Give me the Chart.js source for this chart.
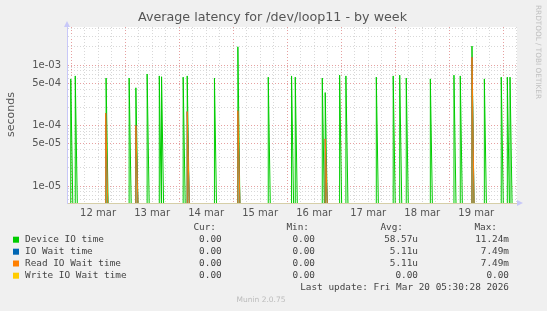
<!DOCTYPE html>
<html>
<head>
<meta charset="utf-8">
<script src="https://cdn.jsdelivr.net/npm/chart.js@4.4.1/dist/chart.umd.min.js"></script>
<style>
  html, body { margin: 0; padding: 0; background: #f0f0f0; }
  canvas { display: block; }
</style>
</head>
<body>
<canvas id="latency" width="547" height="311"></canvas>
<script>
// --- 1. Data (x = hours since 12 mar 00:00, 30 min samples) ---
const deviceHours  = [-0.13, 1.87, 15.56, 25.8, 28.8, 33.8, 39.2, 40.2, 49.8, 51.6, 63.7, 74.1, 87.6, 97.95, 99.6,
                      111.6, 112.9, 119.3, 122.1, 135.6, 143.1, 146.0, 148.9, 159.6, 170.1, 172.9, 178.1, 183.6,
                      191.1, 193.8, 195.0];
const deviceValues = [5.9e-4, 6.6e-4, 6.1e-4, 6.1e-4, 4.2e-4, 7.1e-4, 6.6e-4, 6.4e-4, 6.3e-4, 6.6e-4, 6.1e-4, 2.0e-3, 6.3e-4, 6.6e-4, 6.3e-4,
                      6.1e-4, 3.5e-4, 6.8e-4, 6.6e-4, 6.3e-4, 6.6e-4, 6.8e-4, 6.1e-4, 5.9e-4, 6.8e-4, 6.6e-4, 2.06e-3, 5.9e-4,
                      6.3e-4, 6.3e-4, 6.3e-4];
const readHours    = [15.4, 28.8, 51.6, 74.1, 112.9, 178.1];
const readValues   = [1.6e-4, 1.0e-4, 1.7e-4, 1.76e-4, 6.0e-5, 1.34e-3];
const ioWaitHours  = readHours;     // IO wait == read IO wait here
const ioWaitValues = readValues;
const writeHours   = [-1.8, 198.1];
const writeValues  = [0, 0];        // zero everywhere: nothing to show on a log axis

const dayLabels   = ['12 mar', '13 mar', '14 mar', '15 mar', '16 mar', '17 mar', '18 mar', '19 mar'];
const yTickValues = [1e-3, 5e-4, 1e-4, 5e-5, 1e-5];
const yTickLabels = ['1e-03', '5e-04', '1e-04', '5e-05', '1e-05'];

const legendNames  = ['Device IO time', 'IO Wait time', 'Read IO Wait time', 'Write IO Wait time'];
const legendColors = ['#00cc00', '#0066b3', '#ff8000', '#ffcc00'];
const curText = ['0.00', '0.00', '0.00', '0.00'];
const minText = ['0.00', '0.00', '0.00', '0.00'];
const avgText = ['58.57u', '5.11u', '5.11u', '0.00'];
const maxText = ['11.24m', '7.49m', '7.49m', '0.00'];

const xMin = -1.8, xMax = 198.1;
const yMin = 5.24e-6, yMax = 4.25e-3;

// --- 2. Helpers ---
// each sample: vertical rise from the bottom edge, short fall back, then a gap
function spikes(hours, values) {
    let pts = [];
    hours.forEach((h, i) => {
        pts.push({ x: h, y: yMin }, { x: h, y: values[i] }, { x: h + 0.9, y: yMin }, { x: h + 0.95, y: null });
    });
    return pts;
}

// later series are painted over earlier ones (like rrdtool), so order counts down
function lineSet(label, color, pts, order) {
    return { label: label, data: pts, borderColor: color, backgroundColor: color, order: order,
             borderWidth: 1, pointRadius: 0, tension: 0, fill: false, spanGaps: false };
}

const RED = '#e6a0a0';
const GRAY = '#d8d8d8';
const isMajorY = v => yTickValues.some(k => Math.abs(k - v) / k < 1e-6);

// --- 3. Extra drawing: background, title, arrows, legend ---
const decor = {
    id: 'decor',
    beforeDraw(chart) {
        const { ctx, chartArea: a } = chart;
        ctx.save();
        ctx.fillStyle = '#f0f0f0';
        ctx.fillRect(0, 0, chart.width, chart.height);
        ctx.fillStyle = '#ffffff';
        ctx.fillRect(a.left, a.top, a.right - a.left, a.bottom - a.top);
        ctx.restore();
    },
    afterDraw(chart) {
        const { ctx, chartArea: a } = chart;
        ctx.save();
        // title
        ctx.fillStyle = '#555';
        ctx.font = '12.7px "DejaVu Sans"';
        ctx.textAlign = 'center';
        ctx.textBaseline = 'middle';
        ctx.fillText('Average latency for /dev/loop11 - by week', 272.5, 18);
        // y title
        ctx.save();
        ctx.translate(11, 114.5);
        ctx.rotate(-Math.PI / 2);
        ctx.font = '11px "DejaVu Sans"';
        ctx.fillText('seconds', 0, 0);
        ctx.restore();
        // rrdtool credit
        ctx.save();
        ctx.translate(537.5, 5);
        ctx.rotate(Math.PI / 2);
        ctx.fillStyle = '#c0c0c0';
        ctx.font = '7.3px "DejaVu Sans"';
        ctx.textAlign = 'left';
        ctx.fillText('RRDTOOL / TOBI OETIKER', 0, 0);
        ctx.restore();
        // axis arrows
        ctx.fillStyle = '#c8c8f8';
        ctx.beginPath();
        ctx.moveTo(a.left - 3, a.top);
        ctx.lineTo(a.left + 3, a.top);
        ctx.lineTo(a.left, a.top - 6);
        ctx.fill();
        ctx.beginPath();
        ctx.moveTo(a.right, a.bottom - 3);
        ctx.lineTo(a.right, a.bottom + 3);
        ctx.lineTo(a.right + 6, a.bottom);
        ctx.fill();
        // legend table
        ctx.font = '9.4px "DejaVu Sans Mono"';
        ctx.fillStyle = '#444';
        ctx.textAlign = 'right';
        ctx.fillText('Cur:', 216, 227.7);
        ctx.fillText('Min:', 309, 227.7);
        ctx.fillText('Avg:', 403, 227.7);
        ctx.fillText('Max:', 497, 227.7);
        const rows = [239.7, 251.7, 263.5, 275.7];
        legendNames.forEach((name, i) => {
            const y = rows[i];
            ctx.fillStyle = legendColors[i];
            ctx.fillRect(13, y - 3, 6, 6);
            ctx.fillStyle = '#444';
            ctx.textAlign = 'left';
            ctx.fillText(name, 25, y);
            ctx.textAlign = 'right';
            ctx.fillText(curText[i], 221.7, y);
            ctx.fillText(minText[i], 315, y);
            ctx.fillText(avgText[i], 418, y);
            ctx.fillText(maxText[i], 509, y);
        });
        ctx.fillText('Last update: Fri Mar 20 05:30:28 2026', 509, 287.7);
        ctx.fillStyle = '#bbb';
        ctx.font = '7.5px "DejaVu Sans"';
        ctx.textAlign = 'center';
        ctx.fillText('Munin 2.0.75', 261, 300);
        ctx.restore();
    }
};

// --- 4. Chart ---
new Chart(document.getElementById('latency'), {
    type: 'line',
    data: {
        datasets: [
            lineSet(legendNames[0], legendColors[0], spikes(deviceHours, deviceValues), 4),
            lineSet(legendNames[1], legendColors[1], spikes(ioWaitHours, ioWaitValues), 3),
            lineSet(legendNames[2], legendColors[2], spikes(readHours, readValues), 2),
            lineSet(legendNames[3], legendColors[3], writeHours.map((h, i) => ({ x: h, y: writeValues[i] })), 1)
        ]
    },
    options: {
        responsive: false,
        animation: false,
        events: [],
        layout: { padding: { left: 0, right: 30, top: 27, bottom: 88 } },
        plugins: { legend: { display: false }, tooltip: { enabled: false } },
        scales: {
            x: {
                type: 'linear', min: xMin, max: xMax,
                afterFit: s => { s.height = 20; },
                afterBuildTicks: s => {
                    let t = [];
                    for (let h = 0; h <= xMax; h += 6) t.push({ value: h });
                    s.ticks = t;
                },
                ticks: {
                    autoSkip: false, maxRotation: 0, padding: 4,
                    color: '#555', font: { family: 'DejaVu Sans', size: 10 },
                    callback: v => (v % 24 === 12 ? dayLabels[Math.floor(v / 24)] : '')
                },
                grid: {
                    drawTicks: false,
                    color: c => (c.tick && c.tick.value % 24 === 0 ? RED : GRAY)
                },
                border: { display: true, color: '#d6cfa8', dash: [1, 2] }
            },
            y: {
                type: 'logarithmic', min: yMin, max: yMax,
                afterFit: s => { s.width = 67; },
                afterBuildTicks: s => {
                    let t = [];
                    for (let e = -6; e <= -3; e++) {
                        for (let m = 1; m <= 9; m++) {
                            const v = m * Math.pow(10, e);
                            if (v >= yMin && v <= yMax) t.push({ value: v });
                        }
                    }
                    s.ticks = t;
                },
                ticks: {
                    autoSkip: false, padding: 6,
                    color: '#555', font: { family: 'DejaVu Sans', size: 10 },
                    callback: v => {
                        const i = yTickValues.findIndex(k => Math.abs(k - v) / k < 1e-6);
                        return i >= 0 ? yTickLabels[i] : '';
                    }
                },
                grid: {
                    drawTicks: false,
                    color: c => (c.tick && isMajorY(c.tick.value) ? RED : GRAY)
                },
                border: { display: true, color: '#c8c8f8', dash: [1, 2] }
            }
        }
    },
    plugins: [decor]
});
</script>
</body>
</html>
